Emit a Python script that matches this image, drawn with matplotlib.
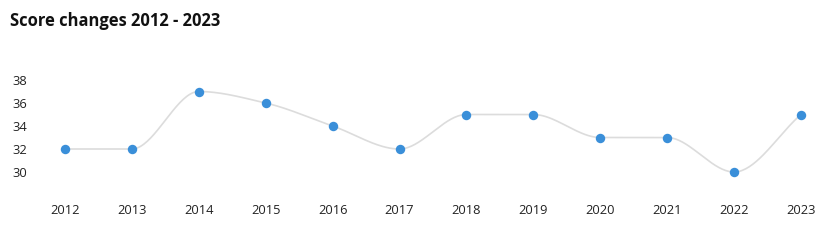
import numpy as np
import matplotlib
matplotlib.use("Agg")
import matplotlib.pyplot as plt

years = ["2012", "2013", "2014", "2015", "2016", "2017", "2018", "2019", "2020", "2021", "2022", "2023"]
scores = [32, 32, 37, 36, 34, 32, 35, 35, 33, 33, 30, 35]
yticks = [30, 32, 34, 36, 38]

def monotone_cubic(x, y, n=40):
    x = np.asarray(x, float); y = np.asarray(y, float)
    h = np.diff(x); d = np.diff(y) / h
    m = np.zeros_like(y)
    m[0] = d[0]; m[-1] = d[-1]
    for i in range(1, len(y) - 1):
        if d[i - 1] * d[i] <= 0:
            m[i] = 0
        else:
            m[i] = 3 * (h[i - 1] + h[i]) / ((2 * h[i] + h[i - 1]) / d[i - 1] + (h[i] + 2 * h[i - 1]) / d[i])
    xs, ys = [], []
    for i in range(len(x) - 1):
        t = np.linspace(0, 1, n)
        h00 = 2 * t**3 - 3 * t**2 + 1
        h10 = t**3 - 2 * t**2 + t
        h01 = -2 * t**3 + 3 * t**2
        h11 = t**3 - t**2
        xs.append(x[i] + t * h[i])
        ys.append(h00 * y[i] + h10 * h[i] * m[i] + h01 * y[i + 1] + h11 * h[i] * m[i + 1])
    return np.concatenate(xs), np.concatenate(ys)

W, H = 830, 240
fig = plt.figure(figsize=(W / 100, H / 100), dpi=100)
ax_left, ax_right = 31.5, 830
ax_top, ax_bottom = 60, 192
ax = fig.add_axes([ax_left / W, 1 - ax_bottom / H, (ax_right - ax_left) / W, (ax_bottom - ax_top) / H])

xpos = np.arange(len(years))
step = (801 - 65) / 11
ax.set_xlim(-0.5, -0.5 + (ax_right - ax_left) / step)
ypx = (172 - 80) / 8
ax.set_ylim(30 - (ax_bottom - 172) / ypx, 38 + (80 - ax_top) / ypx)

sx, sy = monotone_cubic(xpos, scores)
ax.plot(sx, sy, color="#dcdcdc", lw=1.2, zorder=1)
ax.plot(xpos, scores, "o", color="#3a8fd9", markersize=6.8, markeredgewidth=0, zorder=2)

ax.set_xticks(xpos)
ax.set_xticklabels(years)
ax.set_yticks(yticks)
for s in ax.spines.values():
    s.set_visible(False)
ax.tick_params(length=0, labelsize=9.3, colors="#222222")
ax.tick_params(axis="x", pad=9)
ax.tick_params(axis="y", pad=3)
for lbl in ax.get_xticklabels() + ax.get_yticklabels():
    lbl.set_fontfamily("Open Sans")

fig.text(10 / W, 1 - 21 / H, "Score changes 2012 - 2023", fontsize=11.9, fontweight="bold",
         family="Open Sans", color="#111111", va="center", ha="left")

fig.savefig("out.png", dpi=100)
